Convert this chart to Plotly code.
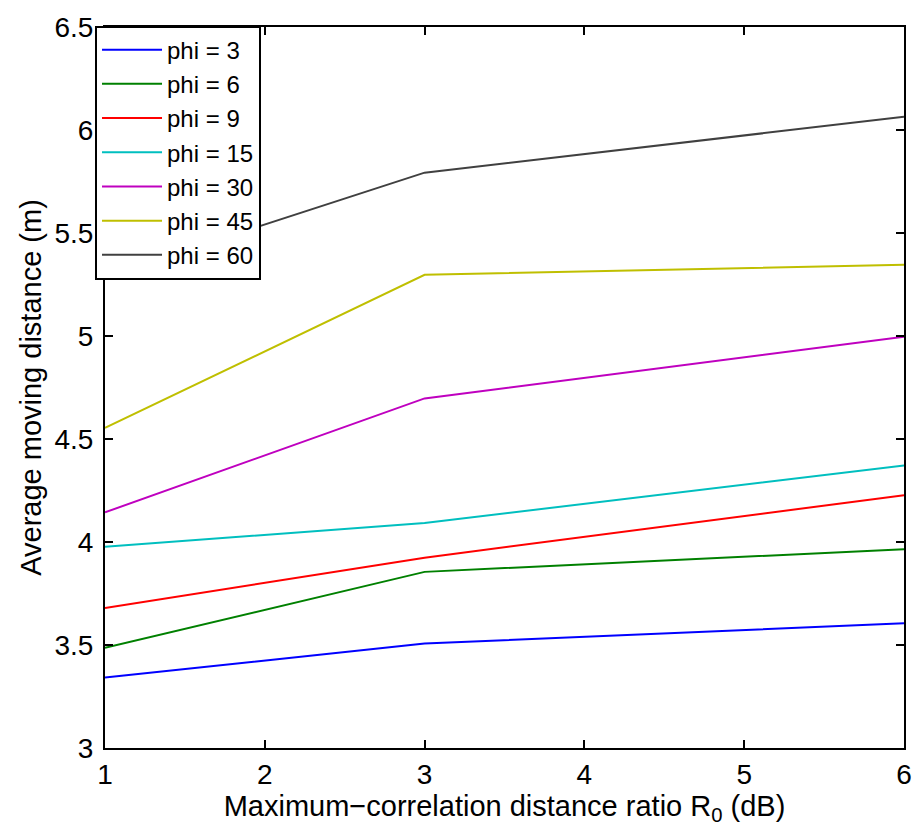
import plotly.graph_objects as go

# Maximum-correlation distance ratio R0 (dB)
r0_db = [1, 3, 6]

# Average moving distance (m) for each phi setting
phi_labels = ["phi = 3", "phi = 6", "phi = 9", "phi = 15", "phi = 30", "phi = 45", "phi = 60"]
dist_phi3 = [3.342, 3.507, 3.605]
dist_phi6 = [3.486, 3.855, 3.965]
dist_phi9 = [3.680, 3.924, 4.227]
dist_phi15 = [3.977, 4.092, 4.372]
dist_phi30 = [4.144, 4.697, 4.996]
dist_phi45 = [4.554, 5.297, 5.346]
dist_phi60 = [5.290, 5.793, 6.064]

series = [dist_phi3, dist_phi6, dist_phi9, dist_phi15, dist_phi30, dist_phi45, dist_phi60]
colors = ["#0000ff", "#008000", "#ff0000", "#00bfbf", "#bf00bf", "#bfbf00", "#404040"]

fig = go.Figure()
for label, ys, col in zip(phi_labels, series, colors):
    fig.add_trace(go.Scatter(x=r0_db, y=ys, mode="lines", name=label,
                             line=dict(color=col, width=2)))

font_family = "Liberation Sans, Arial, sans-serif"
axis_common = dict(
    showline=True, linecolor="black", linewidth=2, mirror="allticks",
    ticks="inside", ticklen=8, tickwidth=2, tickcolor="black",
    showgrid=False, zeroline=False,
    tickfont=dict(family=font_family, size=28, color="black"),
)

fig.update_layout(
    width=924, height=834,
    margin=dict(l=105, r=16, t=20, b=86),
    paper_bgcolor="white", plot_bgcolor="white",
    font=dict(family=font_family, color="black"),
    xaxis=dict(range=[1, 6], tickvals=[1, 2, 3, 4, 5, 6],
               title=dict(text="Maximum\u2212correlation distance ratio R<sub>0</sub> (dB)",
                          font=dict(size=29), standoff=0),
               **axis_common),
    yaxis=dict(range=[3, 6.5], tickvals=[3, 3.5, 4, 4.5, 5, 5.5, 6, 6.5],
               ticktext=["3", "3.5", "4", "4.5", "5", "5.5", "6", "6.5"],
               title=dict(text="Average moving distance (m)", font=dict(size=29), standoff=4),
               ticklabelstandoff=4,
               **axis_common),
    legend=dict(x=-0.0125, y=1.002, xanchor="left", yanchor="top",
                bgcolor="white", bordercolor="black", borderwidth=2,
                font=dict(family=font_family, size=24, color="black"),
                itemwidth=60, tracegroupgap=0),
    showlegend=True,
)

fig.write_html("out.html")
